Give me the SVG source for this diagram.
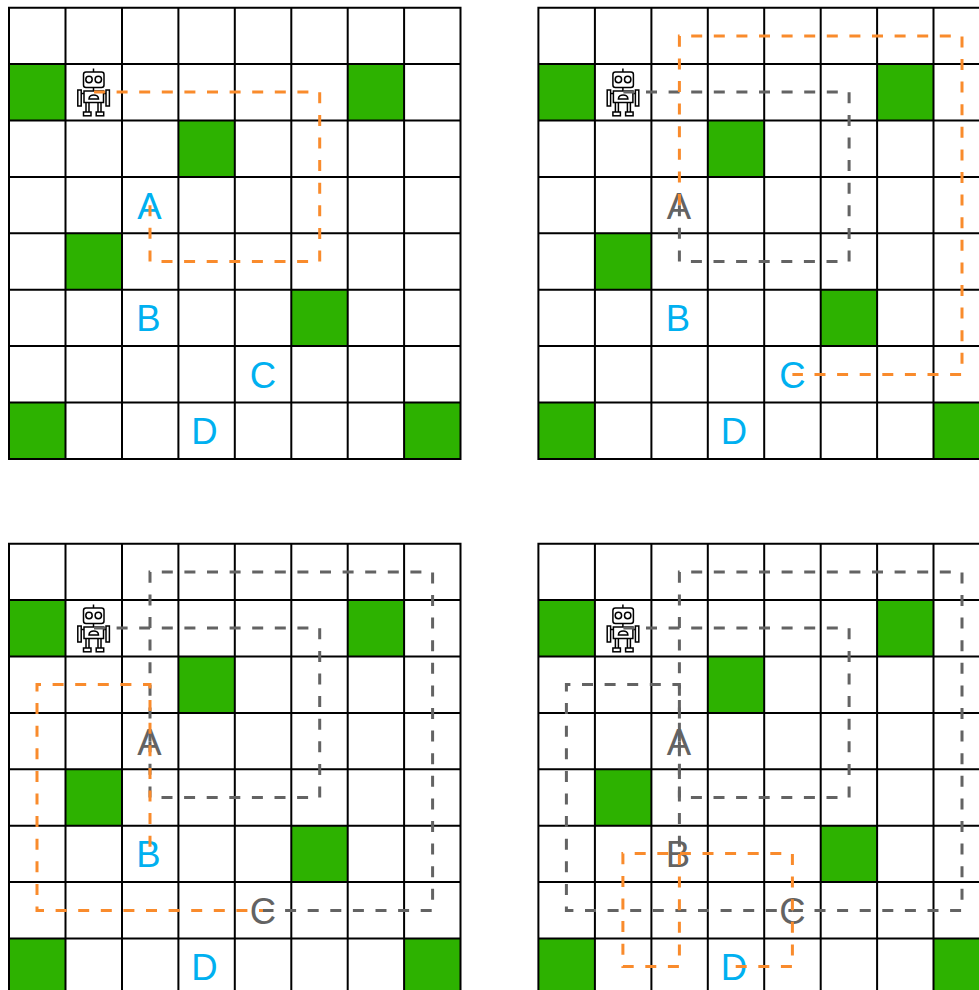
<svg xmlns="http://www.w3.org/2000/svg" xmlns:xlink="http://www.w3.org/1999/xlink" width="979" height="990" viewBox="0 0 979 990">
<style>
.grid{stroke:#000;stroke-width:2;fill:none}
.cell{fill:#2db200}
.lbl{font-family:"Liberation Sans",Arial,sans-serif;font-size:36.5px;text-anchor:middle}
.todo{fill:#00b0f0}
.done{fill:#636363}
.seg{fill:none;stroke-width:3;stroke-dasharray:11 11.6}
.o{stroke:#f98b2c}
.g{stroke:#636363}
.off{stroke-dashoffset:7}
.rb{fill:#fff;stroke:#000;stroke-width:1.5}
.rl{fill:none;stroke:#000;stroke-width:1.5}
</style>
<defs>
<g id="board">
<rect class="cell" x="9" y="64.1" width="56.5" height="56.4"/>
<rect class="cell" x="347.7" y="64.1" width="56.4" height="56.4"/>
<rect class="cell" x="178.4" y="120.5" width="56.4" height="56.4"/>
<rect class="cell" x="65.5" y="233.3" width="56.5" height="56.4"/>
<rect class="cell" x="291.3" y="289.7" width="56.4" height="56.4"/>
<rect class="cell" x="9" y="402.5" width="56.5" height="56.4"/>
<rect class="cell" x="404.1" y="402.5" width="56.4" height="56.4"/>
<path class="grid" d="M9 6.7V459.9M65.5 6.7V459.9M122 6.7V459.9M178.4 6.7V459.9M234.8 6.7V459.9M291.3 6.7V459.9M347.7 6.7V459.9M404.1 6.7V459.9M460.5 6.7V459.9M8 7.7H461.5M8 64.1H461.5M8 120.5H461.5M8 176.9H461.5M8 233.3H461.5M8 289.7H461.5M8 346.1H461.5M8 402.5H461.5M8 458.9H461.5"/>
<g id="robot-art">
<path class="rl" d="M93.5 72V68.5M93.5 87V91M89 102V112M86 102V112M101 102V112M98 102V112M81 93.5H84M104 93.5H106"/>
<rect class="rb" x="83.5" y="72" width="20.5" height="15.5" rx="2.5"/>
<circle class="rb" cx="89" cy="79.5" r="3.2"/>
<circle class="rb" cx="98.3" cy="79.5" r="3.2"/>
<rect class="rb" x="84" y="91" width="19.5" height="11.5"/>
<path class="rb" d="M89 99C89 93.5 98.5 93.5 98.5 99Z"/>
<rect class="rb" x="77.8" y="90" width="3.4" height="16"/>
<rect class="rb" x="106" y="90" width="3.4" height="16"/>
<rect class="rb" x="83.5" y="112" width="7.5" height="3.8"/>
<rect class="rb" x="96.2" y="112" width="7.5" height="3.8"/>
</g>
</g>
<path id="p1" d="M94 92H319.7V261.5H150V205"/>
<path id="p2" d="M150 205V36H432.6V374.5H263"/>
<path id="p3" d="M263 374.5H37V148.5H150V318"/>
<path id="p4" d="M150 318V430.5H93.5V317.5H263V430.5H206"/>
</defs>

<g id="panel-1">
<use href="#board"/>
<g id="labels-1">
<text class="lbl todo" x="149.5" y="218.5">A</text>
<text class="lbl todo" x="148.5" y="331">B</text>
<text class="lbl todo" x="263" y="387.5">C</text>
<text class="lbl todo" x="204.5" y="444">D</text>
</g>
<g id="connectors-1"><use href="#p1" class="seg o"/></g>
</g>

<g id="panel-2" transform="translate(529.4 0)">
<use href="#board"/>
<g id="labels-2">
<text class="lbl done" x="149.5" y="218.5">A</text>
<text class="lbl todo" x="148.5" y="331">B</text>
<text class="lbl todo" x="263" y="387.5">C</text>
<text class="lbl todo" x="204.5" y="444">D</text>
</g>
<g id="connectors-2"><use href="#p1" class="seg g"/><use href="#p2" class="seg o"/></g>
</g>

<g id="panel-3" transform="translate(0 536)">
<use href="#board"/>
<g id="labels-3">
<text class="lbl done" x="149.5" y="218.5">A</text>
<text class="lbl todo" x="148.5" y="331">B</text>
<text class="lbl done" x="263" y="387.5">C</text>
<text class="lbl todo" x="204.5" y="444">D</text>
</g>
<g id="connectors-3"><use href="#p1" class="seg g"/><use href="#p2" class="seg g"/><use href="#p3" class="seg o off"/></g>
</g>

<g id="panel-4" transform="translate(529.4 536)">
<use href="#board"/>
<g id="labels-4">
<text class="lbl done" x="149.5" y="218.5">A</text>
<text class="lbl done" x="148.5" y="331">B</text>
<text class="lbl done" x="263" y="387.5">C</text>
<text class="lbl todo" x="204.5" y="444">D</text>
</g>
<g id="connectors-4"><use href="#p1" class="seg g"/><use href="#p2" class="seg g"/><use href="#p3" class="seg g off"/><use href="#p4" class="seg o"/></g>
</g>
</svg>
